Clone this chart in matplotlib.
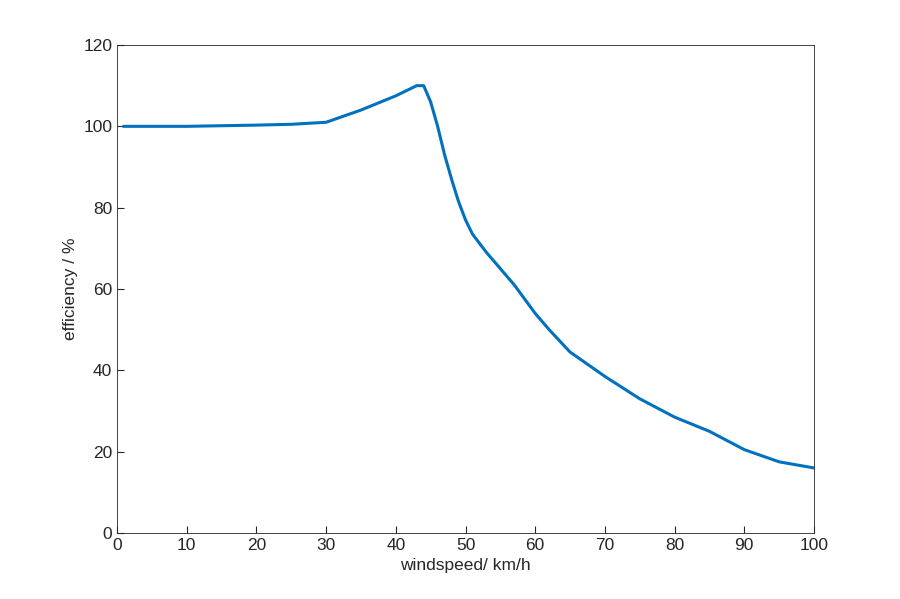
import matplotlib
matplotlib.use("Agg")
import matplotlib.pyplot as plt

windspeed = [1, 10, 20, 25, 30, 35, 40, 43, 44, 45, 46, 47, 48, 49, 50, 51, 53, 55,
             57, 60, 62, 65, 70, 75, 80, 85, 90, 95, 100]
efficiency = [100, 100, 100.3, 100.5, 101, 104, 107.5, 110, 110, 106, 100, 93, 87,
              81.5, 77, 73.5, 69, 65, 61, 54, 50, 44.5, 38.5, 33, 28.5, 25, 20.5,
              17.5, 16]

plt.rcParams['font.family'] = ['Liberation Sans', 'DejaVu Sans']

fig = plt.figure(figsize=(9, 5.99), dpi=100)
ax = fig.add_axes([117 / 900, 1 - 533 / 599, (814 - 117) / 900, (533 - 45) / 599])
ax.plot(windspeed, efficiency, color="#0072BD", linewidth=2.2)
ax.set_xlim(0, 100)
ax.set_ylim(0, 120)
ax.set_xticks(range(0, 101, 10))
ax.set_yticks(range(0, 121, 20))
ax.tick_params(direction="in", labelsize=12.5, colors="#262626", length=5)
for s in ax.spines.values():
    s.set_color("#262626")
    s.set_linewidth(0.6)
ax.set_xlabel("windspeed/ km/h", fontsize=12.5, color="#262626")
ax.set_ylabel("efficiency / %", fontsize=12.5, color="#262626")

fig.savefig("out.png", dpi=100)
